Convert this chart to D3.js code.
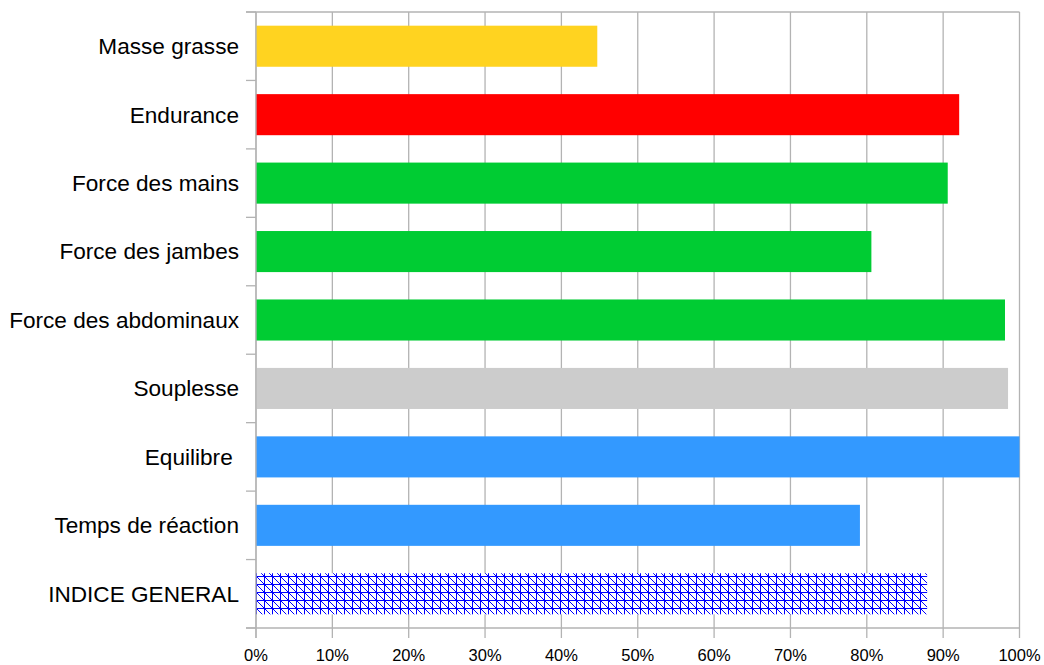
<!DOCTYPE html>
<html>
<head>
<meta charset="utf-8">
<script src="https://cdn.jsdelivr.net/npm/d3@7"></script>
<style>
  body { margin: 0; background: #fff; }
  text { font-family: "Liberation Sans", Arial, sans-serif; fill: #000; white-space: pre; }
</style>
</head>
<body>
<svg id="chart"></svg>
<script>
// Data
let categories = ['Masse grasse', 'Endurance', 'Force des mains', 'Force des jambes',
    'Force des abdominaux', 'Souplesse', 'Equilibre ', 'Temps de réaction', 'INDICE GENERAL'];
let values = [0.447, 0.921, 0.906, 0.806, 0.981, 0.985, 1.0, 0.791, 0.879];
let barColors = ['#ffd320', '#ff0000', '#00cc33', '#00cc33', '#00cc33', '#cccccc', '#3399ff', '#3399ff', 'url(#hatch)'];
let xTicks = [0, 0.1, 0.2, 0.3, 0.4, 0.5, 0.6, 0.7, 0.8, 0.9, 1.0];

// Canvas
let width = 1044;
let height = 665;
let margin = {left: 256, top: 12, right: 24.5, bottom: 37};

let svg = d3.select('#chart')
    .attr('width', width)
    .attr('height', height);

let defs = svg.append('defs');
let pat = defs.append('pattern')
    .attr('id', 'hatch')
    .attr('patternUnits', 'userSpaceOnUse')
    .attr('width', 8)
    .attr('height', 8);
pat.append('rect').attr('width', 8).attr('height', 8).attr('fill', '#fff');
pat.append('path')
    .attr('d', 'M0,0.5 H8 M0.5,0 V8 M0,0 L8,8')
    .attr('stroke', '#0000ff')
    .attr('stroke-width', 1)
    .attr('fill', 'none');

let xScale = d3.scaleLinear()
    .domain([0, 1])
    .range([margin.left, width - margin.right]);

let yScale = d3.scaleBand()
    .domain(categories)
    .range([margin.top, height - margin.bottom])
    .paddingInner(0.4)
    .paddingOuter(0.2);

let gridColor = '#b3b3b3';

// vertical grid lines
svg.append('g')
    .selectAll('line')
    .data(xTicks)
    .enter()
    .append('line')
    .attr('x1', d => xScale(d))
    .attr('x2', d => xScale(d))
    .attr('y1', margin.top)
    .attr('y2', height - margin.bottom + 10)
    .attr('stroke', gridColor)
    .attr('stroke-width', 1.3);

// top border
svg.append('line')
    .attr('x1', margin.left - 10)
    .attr('x2', width - margin.right)
    .attr('y1', margin.top)
    .attr('y2', margin.top)
    .attr('stroke', gridColor)
    .attr('stroke-width', 1.3);

// category boundary ticks on the left
let step = (height - margin.bottom - margin.top) / categories.length;
svg.append('g')
    .selectAll('line')
    .data(d3.range(categories.length + 1))
    .enter()
    .append('line')
    .attr('x1', margin.left - 10)
    .attr('x2', margin.left)
    .attr('y1', i => margin.top + i * step)
    .attr('y2', i => margin.top + i * step)
    .attr('stroke', gridColor)
    .attr('stroke-width', 1.3);

// bottom axis line
svg.append('line')
    .attr('x1', margin.left - 10)
    .attr('x2', width - margin.right)
    .attr('y1', height - margin.bottom)
    .attr('y2', height - margin.bottom)
    .attr('stroke', gridColor)
    .attr('stroke-width', 1.3);

// bars
svg.append('g')
    .selectAll('rect')
    .data(values)
    .enter()
    .append('rect')
    .attr('x', xScale(0))
    .attr('y', (d, i) => yScale(categories[i]))
    .attr('width', d => xScale(d) - xScale(0))
    .attr('height', yScale.bandwidth())
    .attr('fill', (d, i) => barColors[i]);

// left axis line
svg.append('line')
    .attr('x1', margin.left)
    .attr('x2', margin.left)
    .attr('y1', margin.top)
    .attr('y2', height - margin.bottom + 10)
    .attr('stroke', gridColor)
    .attr('stroke-width', 1.3);

// category labels
svg.append('g')
    .selectAll('text')
    .data(categories)
    .enter()
    .append('text')
    .attr('x', margin.left - 17)
    .attr('y', d => yScale(d) + yScale.bandwidth() / 2)
    .attr('dy', '0.35em')
    .attr('text-anchor', 'end')
    .style('font-size', '22.6px')
    .text(d => d);

// x tick labels
svg.append('g')
    .selectAll('text')
    .data(xTicks)
    .enter()
    .append('text')
    .attr('x', d => xScale(d))
    .attr('y', 661)
    .attr('text-anchor', 'middle')
    .style('font-size', '16.5px')
    .text(d => d3.format('.0%')(d));
</script>
</body>
</html>
